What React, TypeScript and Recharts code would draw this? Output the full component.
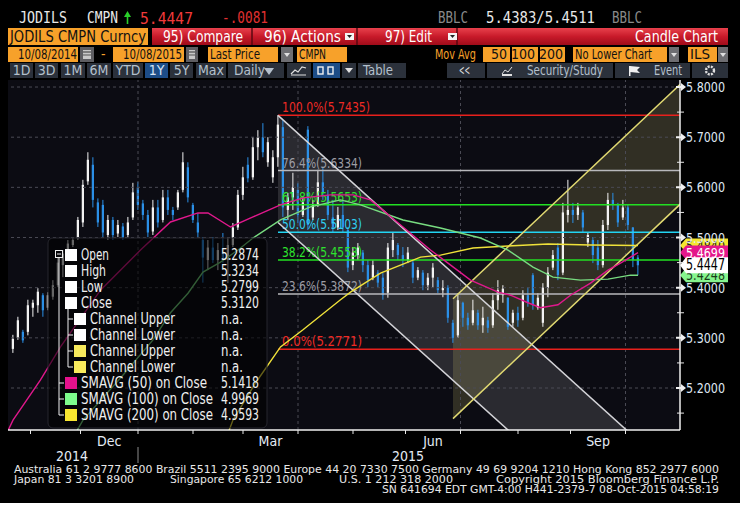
import React from "react";
import {
  Area,
  Bar,
  ComposedChart,
  Line,
  ReferenceArea,
  ReferenceLine,
  XAxis,
  YAxis,
} from "recharts";

const NARROW = "'Liberation Sans Narrow', 'DejaVu Sans Condensed', 'Arial Narrow', sans-serif";
const MONO = "'DejaVu Sans Mono', 'Liberation Mono', monospace";

const ORANGE = "#f7a12a";
const UP = "#f2f2f2";
const DOWN = "#2b8fe6";
const PLOT_BG = "#0c0c13";
const GRID = "#4a4a54";

// x axis = weekdays counted from 10/08/2014
const DAY_MIN = 9;
const DAY_MAX = 277.8;
const PRICE_MIN = 5.1163;
const PRICE_MAX = 5.814;
const FIRST_CANDLE_DAY = 11; // one candle every 2 weekdays

const opens = [
  5.278, 5.3, 5.312, 5.312, 5.36, 5.365, 5.385, 5.36, 5.382, 5.405, 5.445, 5.47, 5.485, 5.498, 5.53, 5.612,
  5.645, 5.57, 5.565, 5.505, 5.535, 5.508, 5.522, 5.505, 5.54, 5.6, 5.568, 5.545, 5.512, 5.56, 5.535, 5.58,
  5.555, 5.56, 5.595, 5.64, 5.565, 5.53, 5.495, 5.455, 5.48, 5.455, 5.47, 5.455, 5.485, 5.52, 5.585, 5.645,
  5.62, 5.68, 5.7, 5.65, 5.62, 5.66, 5.72, 5.555, 5.58, 5.595, 5.545, 5.715, 5.54, 5.565, 5.61, 5.585,
  5.54, 5.52, 5.545, 5.515, 5.445, 5.465, 5.47, 5.445, 5.42, 5.43, 5.42, 5.39, 5.475, 5.485, 5.465, 5.455,
  5.45, 5.42, 5.43, 5.405, 5.42, 5.415, 5.395, 5.4, 5.33, 5.305, 5.37, 5.34, 5.33, 5.35, 5.325, 5.335,
  5.325, 5.375, 5.385, 5.38, 5.33, 5.35, 5.34, 5.385, 5.425, 5.36, 5.33, 5.4, 5.44, 5.48, 5.43, 5.545,
  5.555, 5.545, 5.55, 5.49, 5.495, 5.48, 5.445, 5.525, 5.575, 5.565, 5.54, 5.56, 5.52, 5.46,
];
const highs = [
  5.306, 5.342, 5.316, 5.376, 5.376, 5.399, 5.389, 5.391, 5.415, 5.461, 5.475, 5.495, 5.501, 5.541, 5.615, 5.67,
  5.66, 5.578, 5.575, 5.545, 5.541, 5.535, 5.529, 5.541, 5.609, 5.611, 5.575, 5.555, 5.575, 5.575, 5.595, 5.595,
  5.561, 5.595, 5.67, 5.65, 5.569, 5.549, 5.501, 5.495, 5.501, 5.489, 5.509, 5.501, 5.529, 5.595, 5.641, 5.66,
  5.7, 5.714, 5.728, 5.7, 5.674, 5.744, 5.734, 5.589, 5.629, 5.609, 5.581, 5.722, 5.575, 5.635, 5.641, 5.595,
  5.575, 5.561, 5.575, 5.521, 5.481, 5.489, 5.475, 5.455, 5.455, 5.435, 5.429, 5.489, 5.509, 5.489, 5.481, 5.481,
  5.455, 5.441, 5.435, 5.429, 5.449, 5.421, 5.415, 5.405, 5.336, 5.389, 5.372, 5.35, 5.376, 5.356, 5.362, 5.342,
  5.389, 5.415, 5.405, 5.381, 5.356, 5.362, 5.395, 5.401, 5.429, 5.389, 5.409, 5.441, 5.475, 5.489, 5.569, 5.615,
  5.569, 5.569, 5.555, 5.509, 5.501, 5.495, 5.535, 5.589, 5.589, 5.569, 5.575, 5.565, 5.521, 5.465,
];
const lows = [
  5.27, 5.296, 5.29, 5.305, 5.342, 5.35, 5.342, 5.355, 5.376, 5.401, 5.421, 5.465, 5.481, 5.495, 5.521, 5.605,
  5.56, 5.521, 5.501, 5.495, 5.495, 5.501, 5.495, 5.5, 5.535, 5.555, 5.535, 5.501, 5.505, 5.52, 5.53, 5.545,
  5.535, 5.555, 5.59, 5.57, 5.529, 5.501, 5.41, 5.435, 5.449, 5.435, 5.449, 5.409, 5.481, 5.515, 5.575, 5.61,
  5.615, 5.654, 5.66, 5.641, 5.609, 5.641, 5.541, 5.535, 5.555, 5.529, 5.541, 5.515, 5.535, 5.561, 5.575, 5.535,
  5.509, 5.515, 5.509, 5.431, 5.435, 5.455, 5.431, 5.401, 5.415, 5.401, 5.376, 5.38, 5.461, 5.455, 5.441, 5.449,
  5.409, 5.415, 5.395, 5.395, 5.401, 5.389, 5.381, 5.33, 5.29, 5.3, 5.322, 5.316, 5.325, 5.316, 5.31, 5.31,
  5.32, 5.356, 5.37, 5.316, 5.322, 5.322, 5.335, 5.362, 5.356, 5.356, 5.322, 5.381, 5.435, 5.415, 5.425, 5.53,
  5.529, 5.535, 5.509, 5.481, 5.449, 5.435, 5.44, 5.515, 5.555, 5.521, 5.535, 5.515, 5.441, 5.425,
];
const closes = [
  5.298, 5.335, 5.295, 5.365, 5.37, 5.392, 5.355, 5.385, 5.405, 5.45, 5.468, 5.488, 5.495, 5.535, 5.605, 5.655,
  5.575, 5.53, 5.51, 5.535, 5.505, 5.525, 5.5, 5.53, 5.59, 5.565, 5.545, 5.51, 5.56, 5.53, 5.58, 5.555,
  5.545, 5.59, 5.65, 5.58, 5.535, 5.51, 5.46, 5.48, 5.455, 5.475, 5.455, 5.485, 5.52, 5.585, 5.62, 5.618,
  5.68, 5.7, 5.67, 5.69, 5.66, 5.725, 5.56, 5.58, 5.6, 5.545, 5.57, 5.525, 5.565, 5.61, 5.59, 5.545,
  5.52, 5.545, 5.52, 5.44, 5.47, 5.48, 5.445, 5.415, 5.445, 5.41, 5.385, 5.48, 5.495, 5.465, 5.455, 5.47,
  5.42, 5.435, 5.405, 5.42, 5.44, 5.395, 5.4, 5.34, 5.3, 5.375, 5.34, 5.325, 5.355, 5.325, 5.34, 5.32,
  5.375, 5.395, 5.398, 5.322, 5.35, 5.335, 5.385, 5.37, 5.365, 5.38, 5.4, 5.43, 5.465, 5.425, 5.55, 5.555,
  5.545, 5.56, 5.52, 5.505, 5.465, 5.445, 5.525, 5.575, 5.565, 5.53, 5.56, 5.525, 5.455, 5.4447,
];

const sma50Days = [9, 11, 22, 30, 46, 62, 74, 85, 89, 98, 107, 118, 127, 138, 147, 154, 167, 178, 185, 194, 205, 210, 217, 222, 229, 234, 242, 249, 254, 261];
const sma50Values = [
  5.115, 5.136, 5.216, 5.282, 5.395, 5.475, 5.531, 5.549, 5.549, 5.521, 5.541, 5.565, 5.579, 5.585, 5.585,
  5.575, 5.521, 5.475, 5.449, 5.415, 5.391, 5.385, 5.37, 5.36, 5.366, 5.385, 5.409, 5.435, 5.449, 5.4699,
];
const sma100Days = [36, 39, 54, 67, 74, 81, 87, 94, 101, 107, 118, 130, 142, 150, 167, 182, 198, 209, 219, 227, 238, 249, 258, 261];
const sma100Values = [
  5.11, 5.136, 5.22, 5.296, 5.35, 5.389, 5.431, 5.451, 5.475, 5.499, 5.535, 5.561, 5.575, 5.565, 5.535, 5.519,
  5.499, 5.475, 5.441, 5.421, 5.415, 5.417, 5.425, 5.4248,
];
const sma200Days = [97, 99, 108, 118, 127, 142, 146, 158, 174, 182, 195, 209, 225, 242, 261];
const sma200Values = [5.11, 5.136, 5.21, 5.282, 5.316, 5.376, 5.391, 5.429, 5.461, 5.465, 5.479, 5.483, 5.487, 5.485, 5.484];

const fibStartDay = 117;
const fibPcts = ["100.0%", "76.4%", "61.8%", "50.0%", "38.2%", "23.6%", "0.0%"];
const fibLevels = [5.7435, 5.6334, 5.5653, 5.5103, 5.4553, 5.3872, 5.2771];
const fibColors = ["#e8201c", "#b8b8bc", "#22e022", "#22d4f2", "#22e022", "#b8b8bc", "#e8201c"];
const fibTextColors = ["#ee2a24", "#9c9ca4", "#2ee42e", "#2ecff0", "#2ee42e", "#9c9ca4", "#ee2a24"];

const descDays = [117, 278];
const descUpper = [5.7435, 5.019];
const descLower = [5.53, 4.806];
const ascDays = [187, 278];
const ascUpper = [5.378, 5.806];
const ascLower = [5.139, 5.567];

const priceLabels = [5.2, 5.3, 5.4, 5.5, 5.6, 5.7, 5.8];
const priceMinor = [5.15, 5.25, 5.35, 5.45, 5.55, 5.65, 5.75];
const monthStarts = [18, 38, 61, 83, 103, 125, 147, 168, 190, 213, 234, 256];
const quarterStarts = [61, 125, 190, 256];
const monthLabelDays = [49.5, 114, 179, 245];
const monthLabels = ["Dec", "Mar", "Jun", "Sep"];
const yearLabelDays = [34.6, 169];
const yearLabels = ["2014", "2015"];
const yearBreakDay = 61;

const tagValues = [5.484, 5.4248, 5.4699, 5.4447];
const tagFills = ["#f4e630", "#86f58e", "#e4168a", "#ffffff"];
const tagText = ["#222", "#1a3a1a", "#ffffff", "#000000"];

const legendNames = [
  "Open", "High", "Low", "Close", "Channel Upper", "Channel Lower", "Channel Upper", "Channel Lower",
  "SMAVG (50) on Close", "SMAVG (100) on Close", "SMAVG (200) on Close",
];
const legendNameWidths = [28, 25, 22, 31, 85, 85, 85, 85, 126, 132, 132];
const legendSwatches = ["#fff", "#fff", "#fff", "#fff", "#fff", "#fff", "#f8ea5c", "#f8ea5c", "#e6118c", "#7dfc8c", "#f8e630"];
const legendValues = ["5.2874", "5.3234", "5.2799", "5.3120", "n.a.", "n.a.", "n.a.", "n.a.", "5.1418", "4.9969", "4.9593"];

const candles = opens.map((o, k) => ({
  i: FIRST_CANDLE_DAY + 2 * k,
  o,
  h: highs[k],
  l: lows[k],
  c: closes[k],
}));
const pairs = (days: number[], vals: number[]) => days.map((i, k) => ({ i, v: vals[k] }));
const band = (days: number[], lo: number[], hi: number[]) => days.map((i, k) => ({ i, r: [lo[k], hi[k]] }));

function Candle(props: any) {
  const { x, y, width, height, payload } = props;
  if (!payload || !height) return null;
  const { o, h, l, c } = payload;
  const k = height / (h - l);
  const color = c >= o ? UP : DOWN;
  const cx = x + width / 2;
  const top = y + (h - Math.max(o, c)) * k;
  const bot = y + (h - Math.min(o, c)) * k;
  return (
    <g>
      <line x1={cx} x2={cx} y1={y} y2={y + height} stroke={color} strokeWidth={1} />
      <rect x={x} y={top} width={width} height={Math.max(1, bot - top)} fill={color} />
    </g>
  );
}

function PriceTick(props: any) {
  const { x, y, payload } = props;
  const v = payload.value as number;
  if (!priceLabels.includes(v)) {
    return <line x1={x - 3} x2={x + 4} y1={y} y2={y} stroke="#e8e8e8" />;
  }
  return (
    <g>
      <polygon
        points={`${x - 4},${y - 1} ${x + 1},${y - 1} ${x + 1},${y - 4} ${x + 6},${y} ${x + 1},${y + 4} ${x + 1},${y + 1} ${x - 4},${y + 1}`}
        fill="#f0f0f0"
      />
      <text x={x + 6} y={y + 5} fontSize={14.5} fontFamily={NARROW} fill="#dfe7f2" textLength={39} lengthAdjust="spacingAndGlyphs">
        {v.toFixed(4)}
      </text>
    </g>
  );
}

function DayTick(props: any) {
  const { x, y, payload } = props;
  const v = payload.value;
  const m = monthLabelDays.indexOf(v);
  if (m >= 0) {
    return (
      <text x={x} y={y + 16} textAnchor="middle" fontSize={14} fontFamily={NARROW} fill="#e4ecf6">
        {monthLabels[m]}
      </text>
    );
  }
  const yr = yearLabelDays.indexOf(v);
  if (yr >= 0) {
    return (
      <text x={x} y={y + 31} textAnchor="middle" fontSize={14} fontFamily={NARROW} fill="#e4ecf6">
        {yearLabels[yr]}
      </text>
    );
  }
  return (
    <g>
      <line x1={x} x2={x} y1={y} y2={y + 4} stroke="#e8e8e8" />
      {v === yearBreakDay && <line x1={x} x2={x} y1={y + 17} y2={y + 33} stroke="#8c8c8c" />}
    </g>
  );
}

const fibLabel = (k: number) => (p: any) => {
  const vb = p.viewBox || {};
  return (
    <text
      x={vb.x + 4}
      y={vb.y - 3}
      fontSize={14}
      fontFamily={NARROW}
      fill={fibTextColors[k]}
      textLength={k === 0 ? 88 : 80}
      lengthAdjust="spacingAndGlyphs"
    >
      {`${fibPcts[k]}(${fibLevels[k].toFixed(4)})`}
    </text>
  );
};

const tagLabel = (k: number) => (p: any) => {
  const vb = p.viewBox || {};
  const ax = vb.x + vb.width;
  const y = vb.y;
  const h = k === 3 ? 8 : 7;
  return (
    <g>
      <polygon points={`${ax},${y} ${ax + 6},${y - h} ${ax + 48},${y - h} ${ax + 48},${y + h} ${ax + 6},${y + h}`} fill={tagFills[k]} />
      <text
        x={ax + 6}
        y={y + 5}
        fontSize={k === 3 ? 16 : 14}
        fontFamily={NARROW}
        fill={tagText[k]}
        textLength={39}
        lengthAdjust="spacingAndGlyphs"
      >
        {tagValues[k].toFixed(4)}
      </text>
    </g>
  );
};

function PriceChart() {
  return (
    <ComposedChart width={740} height={390} data={candles} margin={{ top: 0, right: 0, bottom: 0, left: 8 }}>
      <XAxis
        type="number"
        dataKey="i"
        domain={[DAY_MIN, DAY_MAX]}
        allowDataOverflow
        ticks={[...monthStarts, ...monthLabelDays, ...yearLabelDays]}
        interval={0}
        height={40}
        tickSize={0}
        tickMargin={0}
        tickLine={false}
        axisLine={{ stroke: "#f0f0f0", strokeWidth: 1.5 }}
        tick={DayTick}
      />
      <YAxis
        orientation="right"
        domain={[PRICE_MIN, PRICE_MAX]}
        allowDataOverflow
        ticks={[...priceMinor, ...priceLabels]}
        interval={0}
        width={60}
        tickSize={0}
        tickMargin={0}
        tickLine={false}
        axisLine={{ stroke: "#f0f0f0", strokeWidth: 1.5 }}
        tick={PriceTick}
      />
      <ReferenceArea x1={DAY_MIN} x2={DAY_MAX} y1={PRICE_MIN} y2={PRICE_MAX} fill={PLOT_BG} fillOpacity={1} stroke="none" />
      {priceLabels.map((v) => (
        <ReferenceLine key={`h${v}`} y={v} stroke={GRID} strokeDasharray="3 3" />
      ))}
      {quarterStarts.map((d) => (
        <ReferenceLine key={`v${d}`} x={d} stroke={GRID} strokeDasharray="3 3" />
      ))}

      <Area data={band(descDays, descLower, descUpper)} dataKey="r" stroke="none" fill="#c4c4cc" fillOpacity={0.16} isAnimationActive={false} />
      <Area data={band(ascDays, ascLower, ascUpper)} dataKey="r" stroke="none" fill="#d2ca70" fillOpacity={0.19} isAnimationActive={false} />

      {fibLevels.map((v, k) => (
        <ReferenceLine
          key={`f${k}`}
          segment={[{ x: fibStartDay, y: v }, { x: DAY_MAX, y: v }]}
          stroke={fibColors[k]}
          strokeWidth={1.5}
          label={fibLabel(k)}
        />
      ))}

      <Bar dataKey={(d: any) => [d.l, d.h]} barSize={3} shape={Candle} isAnimationActive={false} />

      <Line data={pairs(descDays, descUpper)} dataKey="v" stroke="#d4d4d8" strokeWidth={1.5} dot={false} activeDot={false} isAnimationActive={false} />
      <Line data={pairs(descDays, descLower)} dataKey="v" stroke="#d4d4d8" strokeWidth={1.5} dot={false} activeDot={false} isAnimationActive={false} />
      <Line data={pairs(ascDays, ascUpper)} dataKey="v" stroke="#e2da72" strokeWidth={1.5} dot={false} activeDot={false} isAnimationActive={false} />
      <Line data={pairs(ascDays, ascLower)} dataKey="v" stroke="#e2da72" strokeWidth={1.5} dot={false} activeDot={false} isAnimationActive={false} />

      <Line data={pairs(sma200Days, sma200Values)} dataKey="v" stroke="#f0e23a" strokeWidth={1.4} dot={false} activeDot={false} isAnimationActive={false} />
      <Line data={pairs(sma100Days, sma100Values)} dataKey="v" stroke="#78dc80" strokeWidth={1.4} dot={false} activeDot={false} isAnimationActive={false} />
      <Line data={pairs(sma50Days, sma50Values)} dataKey="v" stroke="#e0188c" strokeWidth={1.4} dot={false} activeDot={false} isAnimationActive={false} />

      {tagValues.map((v, k) => (
        <ReferenceLine key={`t${k}`} y={v} stroke="none" ifOverflow="visible" label={tagLabel(k)} />
      ))}
    </ComposedChart>
  );
}

function T(props: any) {
  const { children, ...rest } = props;
  return (
    <text fontFamily={NARROW} lengthAdjust="spacingAndGlyphs" {...rest}>
      {children}
    </text>
  );
}

function DropIcon({ x, y }: { x: number; y: number }) {
  return (
    <g>
      <rect x={x} y={y} width={9} height={7} fill="#f4f4f4" />
      <polygon points={`${x + 2},${y + 2} ${x + 7},${y + 2} ${x + 4.5},${y + 5}`} fill="#222" />
    </g>
  );
}

function GrayDrop({ x, w }: { x: number; w: number }) {
  return (
    <g>
      <rect x={x} y={47} width={w} height={15} fill="#6e6e72" />
      <polygon points={`${x + w / 2 - 3},${53} ${x + w / 2 + 3},${53} ${x + w / 2},${57}`} fill="#e0e0e0" />
    </g>
  );
}

function Calendar({ x, w }: { x: number; w: number }) {
  return (
    <g>
      <rect x={x} y={47} width={w} height={15} fill="#5e5e62" />
      <rect x={x + 3} y={50} width={w - 6} height={9} fill="#c8c8c8" />
      <line x1={x + 3} x2={x + w - 3} y1={52} y2={52} stroke="#333" />
      <line x1={x + 3} x2={x + w - 3} y1={55} y2={55} stroke="#555" />
    </g>
  );
}

const buttons: [number, number, string, boolean][] = [
  [10, 23, "1D", false],
  [35, 23, "3D", false],
  [61, 24, "1M", false],
  [87, 24, "6M", false],
  [113, 30, "YTD", false],
  [145, 23, "1Y", true],
  [170, 23, "5Y", false],
  [196, 30, "Max", false],
];

function Header() {
  return (
    <g>
      {/* quote line */}
      <text x={19} y={23} fontFamily={MONO} fontSize={15} fill="#e8e8e8" textLength={48} lengthAdjust="spacingAndGlyphs">JODILS</text>
      <text x={87} y={23} fontFamily={MONO} fontSize={15} fill="#e8e8e8" textLength={31} lengthAdjust="spacingAndGlyphs">CMPN</text>
      <line x1={127.5} x2={127.5} y1={24} y2={14} stroke="#2ad02a" strokeWidth={1.6} />
      <polygon points="124,17 127.5,11 131,17" fill="#2ad02a" />
      <text x={140} y={24} fontFamily={MONO} fontSize={16} fill="#f03a3a" textLength={53} lengthAdjust="spacingAndGlyphs">5.4447</text>
      <text x={222} y={23} fontFamily={MONO} fontSize={15} fill="#e03030" textLength={46} lengthAdjust="spacingAndGlyphs">-.0081</text>
      <text x={438} y={23} fontFamily={MONO} fontSize={15} fill="#8a8a8a" textLength={30} lengthAdjust="spacingAndGlyphs">BBLC</text>
      <text x={486} y={23} fontFamily={MONO} fontSize={15} fill="#e8e8e8" textLength={109} lengthAdjust="spacingAndGlyphs">5.4383/5.4511</text>
      <text x={612} y={23} fontFamily={MONO} fontSize={15} fill="#8a8a8a" textLength={30} lengthAdjust="spacingAndGlyphs">BBLC</text>

      {/* title bar */}
      <defs>
        <linearGradient id="redbar" x1="0" y1="0" x2="0" y2="1">
          <stop offset="0" stopColor="#e8414c" />
          <stop offset="0.5" stopColor="#c81a2a" />
          <stop offset="1" stopColor="#a00c1a" />
        </linearGradient>
      </defs>
      <rect x={8} y={28} width={140} height={17} fill={ORANGE} />
      <T x={10} y={42} fontSize={16} fill="#111" textLength={136}>JODILS CMPN Curncy</T>
      <rect x={152} y={28} width={576} height={17} fill="url(#redbar)" />
      {[252, 357, 457].map((x) => (
        <line key={x} x1={x} x2={x} y1={28} y2={45} stroke="#5a0810" strokeWidth={1.5} />
      ))}
      <T x={163} y={42} fontSize={16} fill="#fff" textLength={80}>95) Compare</T>
      <T x={264} y={42} fontSize={16} fill="#fff" textLength={77}>96) Actions</T>
      <DropIcon x={345} y={33} />
      <T x={385} y={42} fontSize={16} fill="#fff" textLength={47}>97) Edit</T>
      <DropIcon x={448} y={33} />
      <T x={635} y={42} fontSize={16} fill="#fff" textLength={83}>Candle Chart</T>

      {/* settings row */}
      <rect x={8} y={47} width={70} height={15} fill={ORANGE} />
      <T x={18} y={59} fontSize={14} fill="#111" textLength={59}>10/08/2014</T>
      <Calendar x={80} w={14} />
      <T x={101} y={59} fontSize={14} fill={ORANGE}>-</T>
      <rect x={113} y={47} width={71} height={15} fill={ORANGE} />
      <T x={123} y={59} fontSize={14} fill="#111" textLength={59}>10/08/2015</T>
      <Calendar x={186} w={12} />
      <rect x={208} y={47} width={70} height={15} fill={ORANGE} />
      <T x={210} y={59} fontSize={14} fill="#111" textLength={50}>Last Price</T>
      <GrayDrop x={281} w={12} />
      <rect x={297} y={47} width={50} height={15} fill={ORANGE} />
      <T x={299} y={59} fontSize={14} fill="#111" textLength={27}>CMPN</T>
      <T x={435} y={59} fontSize={14} fill={ORANGE} textLength={41}>Mov Avg</T>
      <rect x={483} y={47} width={27} height={15} fill={ORANGE} />
      <T x={507} y={59} fontSize={14} fill="#111" textAnchor="end">50</T>
      <rect x={512} y={47} width={26} height={15} fill={ORANGE} />
      <T x={535} y={59} fontSize={14} fill="#111" textAnchor="end">100</T>
      <rect x={540} y={47} width={25} height={15} fill={ORANGE} />
      <T x={563} y={59} fontSize={14} fill="#111" textAnchor="end">200</T>
      <rect x={573} y={47} width={94} height={15} fill={ORANGE} />
      <T x={575} y={59} fontSize={14} fill="#111" textLength={77}>No Lower Chart</T>
      <GrayDrop x={669} w={10} />
      <rect x={688} y={47} width={29} height={15} fill={ORANGE} />
      <T x={690} y={59} fontSize={14} fill="#111" textLength={20}>ILS</T>
      <GrayDrop x={718} w={10} />

      {/* button row */}
      {buttons.map(([x, w, label, hl]) => (
        <g key={label}>
          <rect x={x} y={63} width={w} height={15} fill={hl ? "#1d4d87" : "#2b313b"} />
          <T x={x + w / 2} y={75} fontSize={14} fill={hl ? "#d6e4f4" : "#b4c0cc"} textAnchor="middle">{label}</T>
        </g>
      ))}
      <rect x={228} y={63} width={56} height={15} fill="#2b313b" />
      <T x={234} y={75} fontSize={14} fill="#b4c0cc" textLength={31}>Daily</T>
      <polygon points="264,68 274,68 269,75" fill="#b4c0cc" />
      <rect x={287} y={63} width={24} height={15} fill="#2b313b" />
      <polyline points="291,74 295,70 298,72 302,67 306,68" fill="none" stroke="#e0e0e0" strokeWidth={1.2} />
      <line x1={291} x2={306} y1={75} y2={75} stroke="#e0e0e0" />
      <rect x={313} y={63} width={27} height={15} fill="#1d4d87" />
      <rect x={318} y={67} width={5} height={7} fill="none" stroke="#f0f0f0" strokeWidth={1.4} />
      <rect x={328} y={67} width={5} height={7} fill="none" stroke="#f0f0f0" strokeWidth={1.4} />
      <rect x={342} y={63} width={14} height={15} fill="#2b313b" />
      <polygon points="345,68 353,68 349,73" fill="#e0e0e0" />
      <rect x={358} y={63} width={48} height={15} fill="#2b313b" />
      <T x={363} y={75} fontSize={14} fill="#b4c0cc" textLength={30}>Table</T>
      <rect x={447} y={63} width={38} height={15} fill="#2b313b" />
      <T x={459} y={75} fontSize={14} fill="#e0e0e0" textLength={11}>{"<<"}</T>
      <rect x={487} y={63} width={126} height={15} fill="#2b313b" />
      <polyline points="502,74 505,70 508,72 512,67" fill="none" stroke="#e0e0e0" />
      <rect x={502} y={74} width={10} height={2} fill="#e0e0e0" />
      <T x={527} y={75} fontSize={14} fill="#b4c0cc" textLength={76}>Security/Study</T>
      <rect x={615} y={63} width={75} height={15} fill="#2b313b" />
      <rect x={629} y={66} width={1.5} height={10} fill="#f0f0f0" />
      <polygon points="630,66 640,67 637,70 640,73 630,72" fill="#f0f0f0" />
      <T x={654} y={75} fontSize={14} fill="#b4c0cc" textLength={28}>Event</T>
      <rect x={692} y={63} width={36} height={15} fill="#2b313b" />
      <circle cx={710} cy={70.5} r={4} fill="none" stroke="#e0e0e0" strokeWidth={2.4} strokeDasharray="2 1.2" />
      <circle cx={710} cy={70.5} r={1.2} fill="#2b313b" />
    </g>
  );
}

function Legend() {
  const rowY = (k: number) => 255 + 16 * k;
  return (
    <g>
      <rect x={48} y={238} width={219} height={190} rx={5} fill="#000" fillOpacity={0.58} stroke="#26262e" />
      <rect x={55.5} y={250.5} width={7} height={7} fill="none" stroke="#f0f0f0" />
      <line x1={57} x2={61} y1={254} y2={254} stroke="#f0f0f0" />
      <line x1={59} x2={59} y1={258} y2={rowY(10)} stroke="#f0f0f0" />
      <line x1={68} x2={68} y1={309} y2={rowY(7)} stroke="#f0f0f0" />
      {legendNames.map((name, k) => {
        const y = rowY(k);
        const sub = k >= 4 && k <= 7;
        const sx = sub ? 74 : 65;
        const na = legendValues[k] === "n.a.";
        return (
          <g key={k}>
            {sub && <line x1={68} x2={73} y1={y} y2={y} stroke="#f0f0f0" />}
            {k >= 8 && <line x1={59} x2={64} y1={y} y2={y} stroke="#f0f0f0" />}
            <rect x={sx} y={y - 6} width={12} height={12} fill={legendSwatches[k]} />
            <T x={sx + 16} y={y + 5} fontSize={15} fill="#f0f0f0" textLength={legendNameWidths[k]}>
              {name}
            </T>
            <T
              x={na ? 221 : 259}
              y={y + 5}
              fontSize={15}
              fill="#f0f0f0"
              textAnchor={na ? "start" : "end"}
              textLength={na ? 22 : 38}
            >
              {legendValues[k]}
            </T>
          </g>
        );
      })}
    </g>
  );
}

function Footer() {
  const f = { fontSize: 10.5, fill: "#e8e8e8" };
  return (
    <g>
      <T x={14} y={473} {...f} textLength={705}>
        Australia 61 2 9777 8600 Brazil 5511 2395 9000 Europe 44 20 7330 7500 Germany 49 69 9204 1210 Hong Kong 852 2977 6000
      </T>
      <T x={14} y={483} {...f} textLength={120}>Japan 81 3 3201 8900</T>
      <T x={170} y={483} {...f} textLength={133}>Singapore 65 6212 1000</T>
      <T x={339} y={483} {...f} textLength={114}>U.S. 1 212 318 2000</T>
      <T x={496} y={483} {...f} textLength={223}>Copyright 2015 Bloomberg Finance L.P.</T>
      <T x={382} y={493} {...f} textLength={337}>SN 641694 EDT  GMT-4:00 H441-2379-7 08-Oct-2015 04:58:19</T>
    </g>
  );
}

export default function App() {
  return (
    <div style={{ position: "fixed", left: 0, top: 0, width: 740, height: 524, background: "#ffffff", overflow: "hidden" }}>
      <div style={{ position: "absolute", left: 0, top: 0, width: 740, height: 503, background: "#000000" }} />
      <div style={{ position: "absolute", left: 0, top: 80 }}>
        <PriceChart />
      </div>
      <svg width={740} height={524} style={{ position: "absolute", left: 0, top: 0, pointerEvents: "none" }}>
        <Header />
        <Legend />
        <Footer />
      </svg>
    </div>
  );
}
